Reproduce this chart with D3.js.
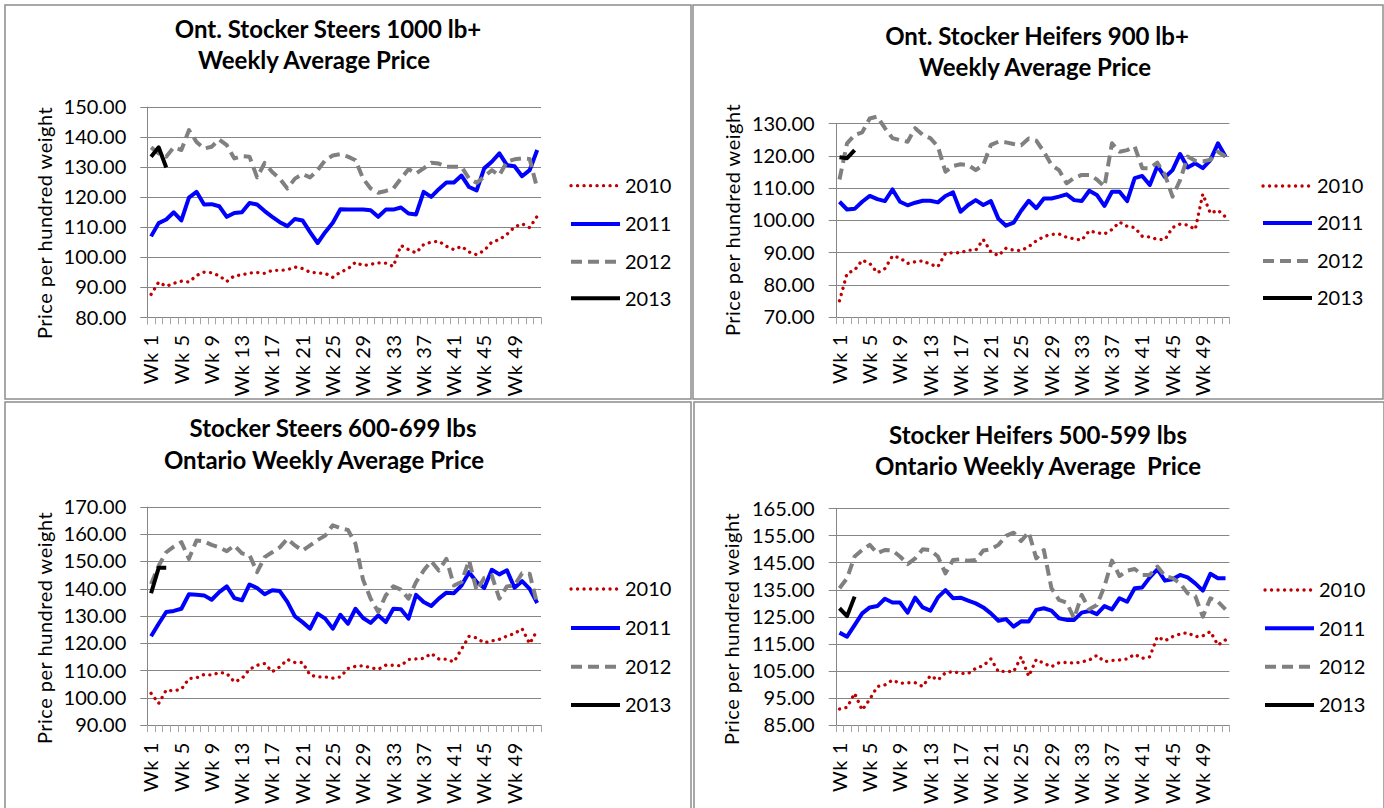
<!DOCTYPE html>
<html lang="en">
<head>
<meta charset="utf-8">
<title>Ontario stocker cattle: weekly average prices</title>
<script src="https://cdn.jsdelivr.net/npm/d3@7"></script>
<style>
  body { margin: 0; background: #fff; }
  svg { display: block; }
  text { font-family: Lato, "Open Sans", sans-serif; fill: #000; }
</style>
</head>
<body>
<script>

// Weeks and years shown in every panel
var weeks = d3.range(1, 53);
var weekLabels = weeks.filter(function(d) { return (d - 1) % 4 === 0; }).map(function(d) { return "Wk " + d; });
var years = ["2010", "2011", "2012", "2013"];

// Ont. Stocker Steers 1000 lb+
var steers1000_2010 = [87.6, 91.7, 90.3, 91.3, 92.0, 91.7, 93.9, 95.0, 94.8, 93.8, 91.9, 93.8, 94.1, 94.7, 94.9, 94.6, 95.6, 95.6, 95.8, 96.7, 96.2, 95.0, 94.7, 94.6, 93.3, 95.0, 96.1, 98.3, 97.2, 97.6, 98.1, 98.0, 96.9, 103.9, 102.5, 101.4, 104.2, 105.0, 105.3, 103.6, 102.5, 103.6, 101.7, 100.8, 102.2, 105.0, 105.8, 107.6, 110.0, 111.1, 109.8, 113.6];
var steers1000_2011 = [106.9, 111.3, 112.5, 114.9, 112.2, 119.8, 121.7, 117.5, 117.6, 116.9, 113.4, 114.7, 114.9, 118.0, 117.5, 115.3, 113.4, 111.6, 110.3, 112.7, 112.2, 108.3, 104.7, 108.3, 111.4, 115.9, 115.8, 115.8, 115.8, 115.6, 113.4, 115.8, 115.8, 116.5, 114.5, 114.2, 121.7, 120.0, 122.6, 124.8, 124.8, 127.1, 123.3, 122.2, 129.5, 131.7, 134.5, 130.6, 130.2, 126.9, 128.9, 135.6];
var steers1000_2012 = [136.5, 134.5, 133.4, 136.5, 135.6, 142.2, 138.3, 136.1, 136.7, 139.1, 137.2, 132.8, 133.6, 133.4, 126.5, 131.3, 128.3, 126.1, 122.8, 126.1, 127.6, 126.5, 128.9, 132.2, 133.8, 134.2, 133.4, 132.2, 126.1, 122.8, 121.4, 122.0, 122.8, 126.1, 129.2, 127.8, 129.5, 131.4, 131.1, 130.0, 130.0, 130.0, 126.1, 124.7, 126.7, 128.9, 127.2, 131.7, 132.5, 132.8, 132.6, 122.8];
var steers1000_2013 = [133.4, 136.5, 129.8];

// Ont. Stocker Heifers 900 lb+
var heifers900_2010 = [75.0, 83.5, 84.5, 87.6, 86.6, 83.7, 85.0, 88.9, 88.3, 86.6, 87.1, 87.4, 86.3, 85.6, 89.7, 89.9, 89.9, 90.7, 90.7, 94.0, 90.2, 89.0, 91.3, 90.7, 90.6, 91.8, 93.6, 94.9, 95.6, 95.7, 94.7, 94.2, 93.8, 96.7, 96.1, 95.7, 97.1, 99.4, 98.1, 97.7, 95.0, 94.8, 94.0, 94.0, 97.7, 98.8, 98.5, 97.1, 108.1, 102.1, 103.1, 101.0];
var heifers900_2011 = [105.7, 103.3, 103.5, 105.7, 107.5, 106.5, 105.9, 109.5, 105.7, 104.6, 105.4, 106.0, 106.0, 105.5, 107.5, 108.6, 102.6, 104.7, 106.2, 104.7, 105.9, 100.4, 98.3, 99.2, 102.9, 106.0, 103.7, 106.7, 106.7, 107.3, 108.0, 106.2, 105.9, 109.1, 107.8, 104.4, 108.8, 108.8, 105.9, 113.0, 113.7, 110.9, 116.8, 113.3, 115.5, 120.5, 116.3, 117.6, 116.1, 118.6, 123.8, 119.7];
var heifers900_2012 = [112.6, 123.8, 126.4, 127.2, 131.5, 132.1, 128.5, 125.4, 124.8, 124.3, 128.5, 126.4, 125.4, 122.8, 115.0, 116.8, 117.3, 117.1, 115.5, 117.1, 123.3, 124.3, 124.1, 123.6, 123.2, 125.3, 124.6, 121.2, 117.1, 115.5, 111.4, 113.1, 114.0, 114.0, 112.6, 110.4, 123.8, 121.2, 121.7, 122.8, 116.1, 116.1, 117.8, 114.0, 107.3, 112.4, 119.7, 118.4, 118.2, 118.7, 121.2, 119.7];
var heifers900_2013 = [119.5, 119.2, 121.7];

// Stocker Steers 600-699 lbs
var steers600_2010 = [101.6, 97.9, 102.8, 102.5, 103.1, 107.0, 107.3, 108.5, 108.3, 109.2, 108.9, 105.8, 107.0, 110.4, 111.9, 112.5, 109.5, 111.3, 114.0, 112.9, 112.9, 108.3, 107.6, 107.6, 107.2, 107.6, 110.7, 111.5, 111.7, 111.0, 110.4, 111.9, 111.9, 111.7, 114.0, 114.2, 114.4, 116.2, 114.2, 114.1, 113.1, 117.8, 122.5, 121.9, 120.1, 120.8, 121.4, 122.6, 123.5, 125.3, 119.8, 124.7];
var steers600_2011 = [122.5, 127.1, 131.4, 131.8, 132.6, 137.9, 137.7, 137.5, 135.9, 138.7, 140.8, 136.5, 135.7, 141.5, 140.2, 137.9, 139.4, 139.1, 135.1, 129.8, 127.7, 125.3, 130.8, 129.0, 125.3, 130.4, 127.1, 132.6, 129.2, 127.4, 130.2, 127.7, 132.6, 132.4, 129.0, 137.7, 135.1, 133.6, 136.3, 138.5, 138.3, 141.1, 146.0, 142.4, 140.2, 146.9, 145.2, 146.7, 140.3, 142.7, 139.9, 134.7];
var steers600_2012 = [141.7, 148.4, 153.3, 155.4, 157.0, 150.9, 157.6, 157.3, 156.0, 155.1, 153.7, 155.8, 152.9, 152.3, 146.0, 151.5, 153.3, 155.1, 158.2, 155.8, 153.9, 155.8, 157.8, 159.4, 163.2, 162.1, 161.5, 156.4, 143.2, 136.3, 131.4, 137.5, 140.8, 139.6, 136.3, 142.4, 146.6, 150.0, 146.6, 150.9, 141.1, 142.4, 150.3, 139.3, 143.9, 144.8, 136.3, 140.8, 141.1, 145.6, 145.4, 134.4];
var steers600_2013 = [138.3, 147.6, 147.6];

// Stocker Heifers 500-599 lbs
var heifers500_2010 = [90.9, 91.5, 96.7, 90.5, 94.5, 99.2, 99.8, 101.6, 100.4, 100.6, 100.6, 99.2, 103.2, 101.6, 104.3, 104.7, 104.1, 104.0, 105.9, 106.9, 109.4, 104.7, 104.8, 104.7, 110.1, 103.0, 109.2, 107.8, 106.5, 108.0, 108.1, 107.8, 108.3, 109.0, 110.7, 108.4, 108.8, 109.0, 109.4, 111.1, 109.6, 110.2, 117.6, 116.1, 117.6, 118.6, 119.1, 117.6, 117.9, 119.5, 114.5, 116.4];
var heifers500_2011 = [119.1, 117.6, 121.9, 126.2, 128.4, 128.9, 131.6, 130.2, 130.2, 126.5, 132.0, 128.4, 127.2, 132.1, 134.8, 131.8, 132.0, 130.9, 129.9, 128.4, 126.2, 123.5, 124.1, 121.3, 123.3, 123.2, 127.5, 128.1, 127.2, 124.4, 123.8, 123.8, 126.5, 127.1, 125.9, 128.9, 127.7, 131.8, 130.5, 135.5, 135.8, 139.5, 142.5, 138.3, 138.8, 140.4, 139.5, 137.3, 134.6, 140.8, 139.2, 139.2];
var heifers500_2012 = [135.5, 139.2, 147.2, 149.6, 151.5, 148.4, 149.6, 149.4, 147.2, 144.4, 146.5, 149.9, 149.6, 147.2, 141.0, 145.9, 146.2, 145.6, 145.9, 149.4, 149.9, 151.5, 154.8, 156.0, 152.9, 156.2, 146.5, 149.6, 135.5, 131.2, 130.2, 124.4, 133.0, 127.7, 129.3, 136.1, 145.7, 140.0, 142.0, 142.6, 140.4, 140.4, 143.5, 140.0, 139.2, 137.3, 133.6, 132.6, 125.0, 131.8, 130.5, 127.7];
var heifers500_2013 = [128.1, 125.2, 132.4];

// y axis ticks of each panel
var ticksSteers1000 = [80, 90, 100, 110, 120, 130, 140, 150];
var ticksHeifers900 = [70, 80, 90, 100, 110, 120, 130];
var ticksSteers600 = [90, 100, 110, 120, 130, 140, 150, 160, 170];
var ticksHeifers500 = [85, 95, 105, 115, 125, 135, 145, 155, 165];

//Width and height
var w = 1384;
var h = 808;

var svg = d3.select("body")
            .append("svg")
            .attr("width", w)
            .attr("height", h);

// line look per year
var lineStyle = {
  "2010": { color: "#c00000", width: 3.3, dash: "0.1,6.4", cap: "round" },
  "2011": { color: "#0000ff", width: 4,   dash: null,      cap: "butt" },
  "2012": { color: "#808080", width: 4,   dash: "11,6",    cap: "butt" },
  "2013": { color: "#000000", width: 4,   dash: null,      cap: "butt" }
};

var panels = [
  {
    frame: [5, 5, 686, 394],
    plot: { left: 147.3, right: 541, top: 106.7, bottom: 317.3 },
    ticks: ticksSteers1000,
    titles: [ { text: "Ont. Stocker Steers 1000 lb+", x: 328, y: 38 },
              { text: "Weekly Average Price", x: 314, y: 69 } ],
    series: [steers1000_2010, steers1000_2011, steers1000_2012, steers1000_2013],
    legend: { x: 571, ys: [185.7, 224, 261.7, 298.3] },
    axisTitle: { x: 44.6, y: 223 }
  },
  {
    frame: [693, 5, 690, 394],
    plot: { left: 835.7, right: 1229.3, top: 123.3, bottom: 317 },
    ticks: ticksHeifers900,
    titles: [ { text: "Ont. Stocker Heifers 900 lb+", x: 1037, y: 45 },
              { text: "Weekly Average Price", x: 1035, y: 76 } ],
    series: [heifers900_2010, heifers900_2011, heifers900_2012, heifers900_2013],
    legend: { x: 1263, ys: [186, 223, 261, 298] },
    axisTitle: { x: 733, y: 220 }
  },
  {
    frame: [5, 402, 686, 410],
    plot: { left: 147.3, right: 541, top: 506.7, bottom: 725 },
    ticks: ticksSteers600,
    titles: [ { text: "Stocker Steers 600-699 lbs", x: 333, y: 437 },
              { text: "Ontario Weekly Average Price", x: 324, y: 469 } ],
    series: [steers600_2010, steers600_2011, steers600_2012, steers600_2013],
    legend: { x: 571, ys: [589, 628, 666.7, 705] },
    axisTitle: { x: 44.6, y: 628 }
  },
  {
    frame: [694, 402, 690, 410],
    plot: { left: 835.7, right: 1229.3, top: 508.3, bottom: 725 },
    ticks: ticksHeifers500,
    titles: [ { text: "Stocker Heifers 500-599 lbs", x: 1038, y: 443.5 },
              { text: "Ontario Weekly Average  Price", x: 1038, y: 475 } ],
    series: [heifers500_2010, heifers500_2011, heifers500_2012, heifers500_2013],
    legend: { x: 1265, ys: [590, 628.3, 666.7, 705] },
    axisTitle: { x: 732, y: 629 }
  }
];

function drawPanel(p) {
  var g = svg.append("g");

  // panel border
  g.append("rect")
   .attr("x", p.frame[0]).attr("y", p.frame[1])
   .attr("width", p.frame[2]).attr("height", p.frame[3])
   .attr("fill", "none")
   .attr("stroke", "#8c8c8c")
   .attr("stroke-width", 1.5);

  var xScale = d3.scaleBand()
                 .domain(weeks)
                 .range([p.plot.left, p.plot.right])
                 .padding(0);

  var yScale = d3.scaleLinear()
                 .domain(d3.extent(p.ticks))
                 .range([p.plot.bottom, p.plot.top]);

  // horizontal grid lines (the lowest one is the x axis)
  g.selectAll("line.grid")
   .data(p.ticks)
   .enter()
   .append("line")
   .attr("class", "grid")
   .attr("x1", p.plot.left - 7)
   .attr("x2", p.plot.right)
   .attr("y1", function(d) { return Math.round(yScale(d)) + 0.5; })
   .attr("y2", function(d) { return Math.round(yScale(d)) + 0.5; })
   .attr("stroke", "#868686")
   .attr("stroke-width", 1);

  // y axis line
  g.append("line")
   .attr("x1", Math.round(p.plot.left) + 0.5).attr("x2", Math.round(p.plot.left) + 0.5)
   .attr("y1", p.plot.top).attr("y2", p.plot.bottom + 7)
   .attr("stroke", "#868686");

  // x tick marks between weeks
  var bounds = weeks.map(function(d) { return xScale(d); }).concat([p.plot.right]);
  g.selectAll("line.xtick")
   .data(bounds)
   .enter()
   .append("line")
   .attr("class", "xtick")
   .attr("x1", function(d) { return Math.round(d) + 0.5; })
   .attr("x2", function(d) { return Math.round(d) + 0.5; })
   .attr("y1", p.plot.bottom)
   .attr("y2", p.plot.bottom + 7)
   .attr("stroke", "#a6a6a6");

  // y tick labels
  g.selectAll("text.ylab")
   .data(p.ticks)
   .enter()
   .append("text")
   .attr("class", "ylab")
   .text(function(d) { return d3.format(".2f")(d); })
   .attr("x", p.plot.left - 21)
   .attr("y", function(d) { return yScale(d); })
   .attr("dy", "0.36em")
   .attr("text-anchor", "end")
   .attr("font-size", "20px");

  // x tick labels, rotated
  g.selectAll("text.xlab")
   .data(weekLabels)
   .enter()
   .append("text")
   .attr("class", "xlab")
   .text(function(d) { return d; })
   .attr("transform", function(d) {
      var wk = +d.slice(3);
      var cx = xScale(wk) + xScale.bandwidth() / 2;
      return "translate(" + cx + "," + (p.plot.bottom + 17) + ") rotate(-90)";
   })
   .attr("dy", "0.36em")
   .attr("text-anchor", "end")
   .attr("font-size", "20px")
   .attr("letter-spacing", "0.6px");

  // axis title
  g.append("text")
   .text("Price per hundred weight")
   .attr("transform", "translate(" + p.axisTitle.x + "," + p.axisTitle.y + ") rotate(-90)")
   .attr("dy", "0.36em")
   .attr("text-anchor", "middle")
   .attr("font-size", "20px")
   .attr("letter-spacing", "0.5px");

  // chart title, two lines
  g.selectAll("text.title")
   .data(p.titles)
   .enter()
   .append("text")
   .attr("class", "title")
   .text(function(d) { return d.text; })
   .attr("x", function(d) { return d.x; })
   .attr("y", function(d) { return d.y; })
   .attr("text-anchor", "middle")
   .attr("font-size", "24px")
   .attr("font-weight", "bold")
   .style("white-space", "pre");

  // series lines
  var line = d3.line()
               .x(function(d, i) { return xScale(weeks[i]) + xScale.bandwidth() / 2; })
               .y(function(d) { return yScale(d); });

  years.forEach(function(yr, k) {
    var s = lineStyle[yr];
    g.append("path")
     .datum(p.series[k])
     .attr("d", line)
     .attr("fill", "none")
     .attr("stroke", s.color)
     .attr("stroke-width", s.width)
     .attr("stroke-linecap", s.cap)
     .attr("stroke-linejoin", "round")
     .attr("stroke-dasharray", s.dash);

    // legend entry
    var ly = p.legend.ys[k];
    g.append("line")
     .attr("x1", p.legend.x).attr("x2", p.legend.x + 49)
     .attr("y1", ly).attr("y2", ly)
     .attr("stroke", s.color)
     .attr("stroke-width", s.width)
     .attr("stroke-linecap", s.cap)
     .attr("stroke-dasharray", s.dash);

    g.append("text")
     .text(yr)
     .attr("x", p.legend.x + 54)
     .attr("y", ly)
     .attr("dy", "0.36em")
     .attr("font-size", "20px");
  });
}

panels.forEach(drawPanel);

</script>
</body>
</html>
